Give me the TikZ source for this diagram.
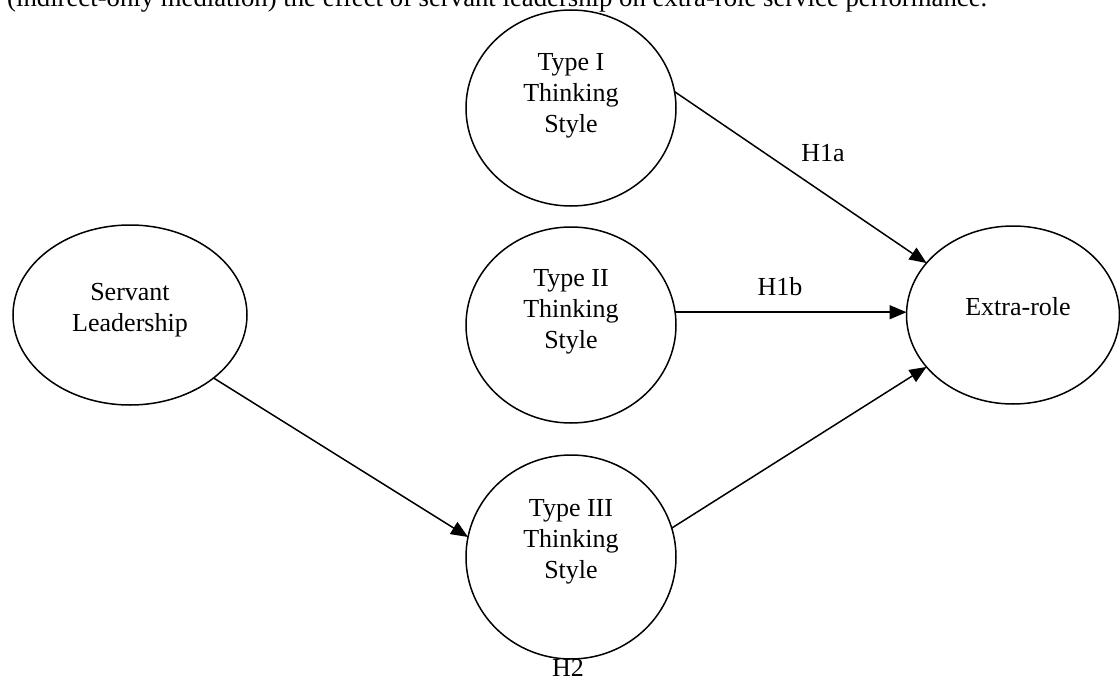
\documentclass[tikz,border=0pt]{standalone}
\usepackage{fontspec}
\setmainfont{Liberation Serif}
\usetikzlibrary{shapes.geometric,arrows.meta}
\begin{document}
\begin{tikzpicture}[x=1pt,y=-1pt,
  ell/.style={draw,ellipse,line width=1.5pt,inner sep=0pt,outer sep=0pt},
  lbl/.style={font=\fontsize{26}{31}\selectfont,align=center,inner sep=0pt},
  conn/.style={line width=1.5pt,-{Triangle[length=17pt,width=14pt]}}]
\useasboundingbox (0,0) rectangle (1120,680);
\clip (0,0) rectangle (1120,680);
\fill[white] (0,0) rectangle (1120,680);
% caption (cut at the top)
\node[anchor=base west,inner sep=0pt] (cap) at (7,6.5) {\resizebox{980pt}{!}{\fontsize{26}{31}\selectfont (indirect-only mediation) the effect of servant leadership on extra-role service performance.}};
% ellipses
\node[ell,minimum width=234pt,minimum height=180pt] (sl) at (130,315) {};
\node[ell,minimum width=210pt,minimum height=196pt] (t1) at (571,108) {};
\node[ell,minimum width=210pt,minimum height=196pt] (t2) at (571,325) {};
\node[ell,minimum width=210pt,minimum height=204pt] (t3) at (571,557) {};
\node[ell,minimum width=213pt,minimum height=178pt] (er) at (1013,315) {};
% texts
\node[lbl] (slt) at (130,310) {Servant\\Leadership};
\node[lbl] (t1t) at (571,96) {Type I\\Thinking\\Style};
\node[lbl] (t2t) at (571,312) {Type II\\Thinking\\Style};
\node[lbl] (t3t) at (571,542) {Type III\\Thinking\\Style};
\node[lbl] (ert) at (1018,307) {Extra-role};
% connectors
\draw[conn] (t1.9) -- (er.149);
\draw[conn] (t2.7) -- (t2.7 -| er.west);
\draw[conn] (t3.16) -- (er.211);
\draw[conn] (sl.323) -- (t3.169);
% hypothesis labels
\node[lbl,anchor=base] (h1a) at (823,161) {H1a};
\node[lbl,anchor=base] (h1b) at (780,295) {H1b};
\node[lbl,anchor=base] (h2) at (568,676) {H2};
\end{tikzpicture}
\end{document}
